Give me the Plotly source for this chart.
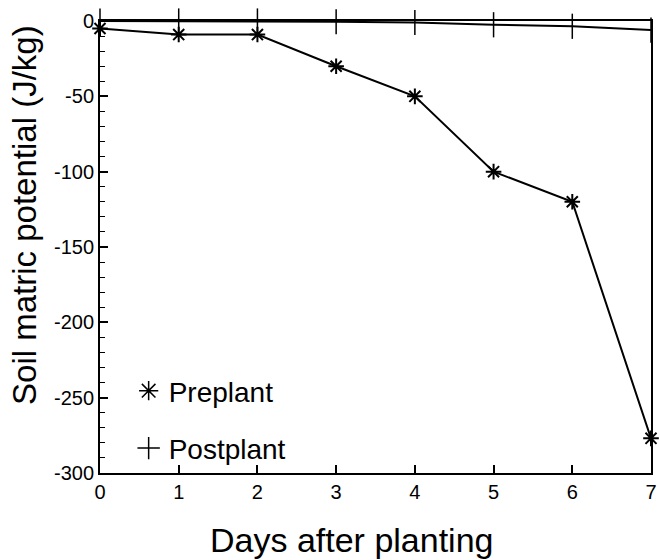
import plotly.graph_objects as go

days = [0, 1, 2, 3, 4, 5, 6, 7]
preplant = [-5, -9, -9, -30, -50, -100, -120, -277]
postplant = [0, 0, 0, -0.5, -1, -2.5, -3.5, -6]
y_tick_vals = [0, -50, -100, -150, -200, -250, -300]
y_tick_text = ["0", "-50", "-100", "-150", "-200", "-250", "-300"]
x_tick_vals = [0, 1, 2, 3, 4, 5, 6, 7]
x_title = "Days after planting"
y_title = "Soil matric potential (J/kg)"

FONT = "Liberation Sans, Arial, Helvetica, sans-serif"

fig = go.Figure()
fig.add_trace(go.Scatter(
    x=days, y=postplant, mode="lines+markers", name="Postplant", showlegend=False,
    line=dict(color="black", width=2),
    marker=dict(symbol="line-ns-open", size=18, color="black", line=dict(width=1.5, color="black")),
    cliponaxis=False))
fig.add_trace(go.Scatter(
    x=days, y=preplant, mode="lines+markers", name="Preplant", showlegend=False,
    line=dict(color="black", width=2),
    marker=dict(symbol="asterisk-open", size=13, color="black", line=dict(width=2, color="black")),
    cliponaxis=False))
# legend entries (markers only, as in the reference)
fig.add_trace(go.Scatter(
    x=[None], y=[None], mode="markers", name="Preplant", legendgroup="a",
    marker=dict(symbol="asterisk-open", size=18, color="black", line=dict(width=1.5, color="black"))))
fig.add_trace(go.Scatter(
    x=[None], y=[None], mode="markers", name="Postplant", legendgroup="b",
    marker=dict(symbol="cross-thin-open", size=24, color="black", line=dict(width=1.5, color="black"))))

fig.update_layout(
    width=660, height=560,
    margin=dict(l=100, r=3, t=21, b=87),
    paper_bgcolor="white", plot_bgcolor="white",
    font=dict(family=FONT, color="black"),
    showlegend=True,
    legend=dict(x=0.052, y=0.0, xanchor="left", yanchor="bottom",
                bgcolor="rgba(0,0,0,0)", font=dict(size=28, family=FONT),
                itemwidth=30, tracegroupgap=18, traceorder="grouped"),
    xaxis=dict(
        range=[0, 7], tickvals=x_tick_vals, ticks="inside", ticklen=8, tickwidth=1.5,
        tickcolor="black", showline=True, linecolor="black", linewidth=2, mirror=True,
        showgrid=False, zeroline=False, ticklabeloverflow="allow",
        tickfont=dict(size=20, family=FONT, color="black"),
    ),
    yaxis=dict(
        range=[-300, 0], tickvals=y_tick_vals, ticktext=y_tick_text, ticks="inside",
        ticklen=8, tickwidth=1.5, tickcolor="black", showline=True, linecolor="black",
        linewidth=2, mirror=True, showgrid=False, zeroline=False,
        tickfont=dict(size=20, family=FONT, color="black"),
        minor=dict(dtick=10, ticks="inside", ticklen=5, tickwidth=1.2, tickcolor="black", showgrid=False),
    ),
    annotations=[
        dict(text=x_title, xref="paper", yref="paper", x=0.458, y=-0.148,
             xanchor="center", yanchor="middle", showarrow=False,
             font=dict(size=34, family=FONT, color="black")),
        dict(text=y_title, xref="paper", yref="paper", x=-0.136, y=0.571,
             xanchor="center", yanchor="middle", showarrow=False, textangle=-90,
             font=dict(size=33, family=FONT, color="black")),
    ],
)

fig.write_html("out.html")
